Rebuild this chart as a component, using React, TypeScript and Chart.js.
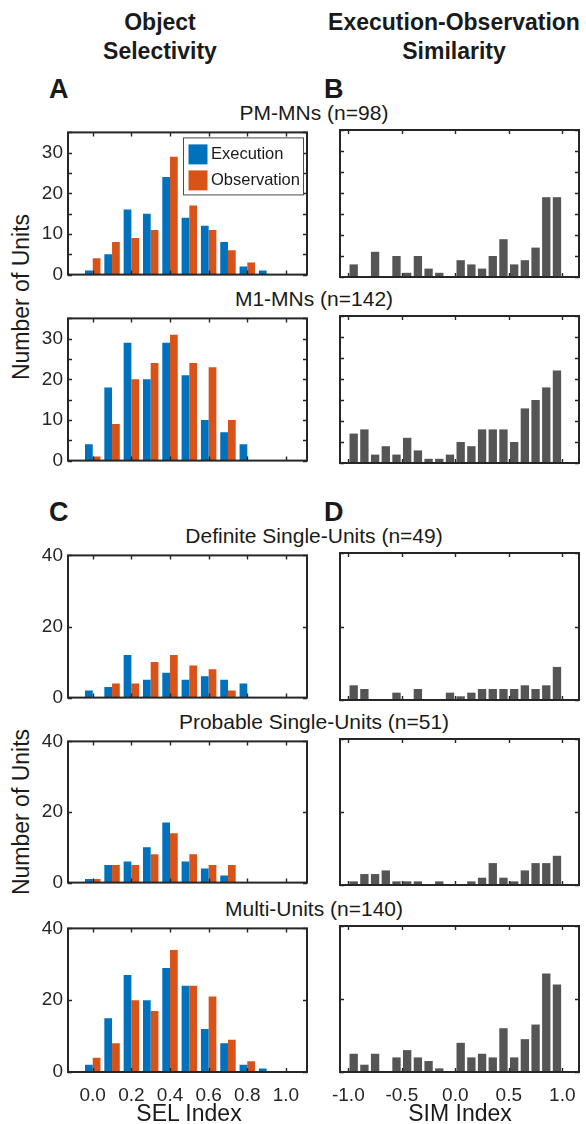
import React, { useEffect, useRef } from "react";
import { Chart, registerables } from "chart.js";

Chart.register(...registerables);

const FONT = '"Liberation Sans", Arial, Helvetica, sans-serif';
Chart.defaults.font.family = FONT;
Chart.defaults.color = "#262626";

// ---------- data ----------
const SEL_BINS = [0, 0.1, 0.2, 0.3, 0.4, 0.5, 0.6, 0.7, 0.8, 0.9];
const SIM_BINS = [
  -0.95, -0.85, -0.75, -0.65, -0.55, -0.45, -0.35, -0.25, -0.15, -0.05,
  0.05, 0.15, 0.25, 0.35, 0.45, 0.55, 0.65, 0.75, 0.85, 0.95,
];
const SEL_TICKS = [0, 0.2, 0.4, 0.6, 0.8, 1.0];
const SIM_TICKS = [-1, -0.5, 0, 0.5, 1];
const COUNT_TICKS_MN = [0, 5, 10, 15, 20, 25, 30, 35];
const COUNT_LABELS_MN = [0, 10, 20, 30];
const COUNT_TICKS_UNITS = [0, 20, 40];
const COUNT_LABELS_UNITS = [0, 20, 40];

const PM_EXEC = [1, 5, 16, 15, 24, 14, 12, 8, 2, 1];
const PM_OBS = [4, 8, 9, 11, 29, 17, 11, 6, 3, 0];
const PM_SIM = [3, 0, 6, 0, 5, 1, 5, 2, 1, 0, 4, 3, 2, 5, 9, 3, 4, 7, 19, 19];

const M1_EXEC = [4, 18, 29, 20, 29, 21, 10, 7, 4, 0];
const M1_OBS = [1, 9, 20, 24, 31, 24, 23, 10, 0, 0];
const M1_SIM = [7, 8, 2, 4, 2, 6, 3, 1, 1, 2, 5, 4, 8, 8, 8, 5, 13, 15, 18, 22];

const DEF_EXEC = [2, 3, 12, 5, 7, 5, 6, 5, 4, 0];
const DEF_OBS = [0, 4, 4, 10, 12, 9, 8, 2, 0, 0];
const DEF_SIM = [4, 3, 0, 0, 2, 0, 3, 0, 0, 2, 1, 2, 3, 3, 3, 3, 4, 3, 4, 9];

const PROB_EXEC = [1, 5, 6, 10, 17, 6, 4, 2, 0, 0];
const PROB_OBS = [1, 5, 5, 8, 14, 8, 5, 5, 0, 0];
const PROB_SIM = [1, 3, 3, 4, 1, 1, 1, 0, 1, 0, 0, 1, 2, 6, 2, 1, 4, 6, 6, 8];

const MULTI_EXEC = [2, 15, 27, 20, 29, 24, 12, 8, 2, 1];
const MULTI_OBS = [4, 8, 20, 17, 34, 24, 21, 9, 3, 0];
const MULTI_SIM = [5, 2, 5, 0, 4, 6, 4, 3, 1, 0, 8, 4, 5, 4, 12, 4, 9, 13, 27, 24];

const SERIES_NAMES = ["Execution", "Observation"];
const ROW_TITLES = [
  "PM-MNs (n=98)",
  "M1-MNs (n=142)",
  "Definite Single-Units (n=49)",
  "Probable Single-Units (n=51)",
  "Multi-Units (n=140)",
];

// ---------- style ----------
const BLUE = "#0072BD";
const ORANGE = "#D95319";
const GRAY = "#555555";
const AXIS = "#262626";

const SEL_RANGE = [-0.128, 1.109];
const SIM_RANGE = [-1.078, 1.156];
const SEL_AREA = { left: 68, right: 307 };
const SIM_AREA = { left: 340, right: 579 };
const ROWS = [
  { top: 130, bottom: 277 },
  { top: 316, bottom: 463 },
  { top: 553, bottom: 700 },
  { top: 739, bottom: 885 },
  { top: 926, bottom: 1072 },
];

const framePlugin = {
  id: "frame",
  afterDatasetsDraw(chart: any) {
    const { ctx, chartArea, scales } = chart;
    const { left, right, top, bottom } = chartArea;
    const x = scales.x;
    const y = scales.y;
    const TL = 4;
    ctx.save();
    ctx.strokeStyle = AXIS;
    ctx.lineWidth = 1.4;
    ctx.beginPath();
    x.ticks.forEach((t: any) => {
      const p = Math.round(x.getPixelForValue(t.value)) + 0.5;
      ctx.moveTo(p, bottom);
      ctx.lineTo(p, bottom - TL);
      ctx.moveTo(p, top);
      ctx.lineTo(p, top + TL);
    });
    y.ticks.forEach((t: any) => {
      const p = Math.round(y.getPixelForValue(t.value)) + 0.5;
      ctx.moveTo(left, p);
      ctx.lineTo(left + TL, p);
      ctx.moveTo(right, p);
      ctx.lineTo(right - TL, p);
    });
    ctx.stroke();
    ctx.lineWidth = 2;
    ctx.strokeRect(left, top, right - left, bottom - top);
    ctx.restore();
  },
};

const legendPlugin = {
  id: "boxLegend",
  afterDatasetsDraw(chart: any, _args: any, opts: any) {
    if (!opts || !opts.show) return;
    const { ctx, chartArea } = chart;
    const w = 121;
    const h = 58;
    const x0 = chartArea.right - 3 - w;
    const y0 = chartArea.top + 5;
    ctx.save();
    ctx.fillStyle = "#ffffff";
    ctx.fillRect(x0, y0, w, h);
    ctx.strokeStyle = "#4d4d4d";
    ctx.lineWidth = 1;
    ctx.strokeRect(x0 + 0.5, y0 + 0.5, w - 1, h - 1);
    ctx.font = `16.5px ${FONT}`;
    ctx.textBaseline = "middle";
    ctx.textAlign = "left";
    chart.data.datasets.forEach((ds: any, i: number) => {
      const sy = y0 + 7 + i * 26;
      ctx.fillStyle = ds.backgroundColor;
      ctx.fillRect(x0 + 5.5, sy, 19, 20);
      ctx.fillStyle = "#1a1a1a";
      ctx.fillText(ds.label, x0 + 28, sy + 10.5);
    });
    ctx.restore();
  },
};

type PanelProps = {
  kind: "sel" | "sim";
  series: number[][];
  yMax: number;
  yTicks: number[];
  yLabels: number[];
  showY: boolean;
  showX: boolean;
  legend?: boolean;
  top: number;
  bottom: number;
};

function Panel(p: PanelProps) {
  const ref = useRef<HTMLCanvasElement>(null);
  const sel = p.kind === "sel";
  const area = sel ? SEL_AREA : SIM_AREA;
  const canvasLeft = sel ? 0 : 310;
  const padTop = 14;
  const padRight = 10;
  const xH = p.showX ? 40 : 14;
  const yW = area.left - canvasLeft;
  const w = area.right + padRight - canvasLeft;
  const h = padTop + (p.bottom - p.top) + xH;

  useEffect(() => {
    const bins = sel ? SEL_BINS : SIM_BINS;
    const datasets = sel
      ? p.series.map((vals, k) => ({
          label: SERIES_NAMES[k],
          data: bins.map((b, i) => ({ x: b, y: vals[i] })),
          backgroundColor: k === 0 ? BLUE : ORANGE,
          borderWidth: 0,
          barPercentage: 1,
          categoryPercentage: 0.8,
        }))
      : [
          {
            label: "SIM",
            data: bins.map((b, i) => ({ x: b, y: p.series[0][i] })),
            backgroundColor: GRAY,
            borderWidth: 0,
            barPercentage: 0.78,
            categoryPercentage: 1,
          },
        ];
    const xTicks = sel ? SEL_TICKS : SIM_TICKS;
    const xr = sel ? SEL_RANGE : SIM_RANGE;
    const chart = new Chart(ref.current as HTMLCanvasElement, {
      type: "bar",
      data: { datasets } as any,
      plugins: [framePlugin, legendPlugin],
      options: {
        animation: false,
        responsive: false,
        maintainAspectRatio: false,
        devicePixelRatio: 1,
        events: [],
        layout: { padding: { top: padTop, right: padRight, left: 0, bottom: 0 } },
        plugins: {
          legend: { display: false },
          tooltip: { enabled: false },
          title: { display: false },
          boxLegend: { show: !!p.legend },
        } as any,
        scales: {
          x: {
            type: "linear",
            min: xr[0],
            max: xr[1],
            offset: false,
            grid: { display: false, drawTicks: false, offset: false },
            border: { display: false },
            afterBuildTicks: (s: any) => {
              s.ticks = xTicks.map((v) => ({ value: v }));
            },
            afterFit: (s: any) => {
              s.height = xH;
            },
            ticks: {
              display: p.showX,
              padding: 12,
              autoSkip: false,
              maxRotation: 0,
              color: "#262626",
              font: { size: 19, family: FONT },
              callback: (v: any) => Number(v).toFixed(1),
            },
          },
          y: {
            type: "linear",
            min: 0,
            max: p.yMax,
            grid: { display: false, drawTicks: false },
            border: { display: false },
            afterBuildTicks: (s: any) => {
              s.ticks = p.yTicks.map((v) => ({ value: v }));
            },
            afterFit: (s: any) => {
              s.width = yW;
            },
            ticks: {
              display: p.showY,
              padding: 5,
              autoSkip: false,
              color: "#262626",
              font: { size: 19, family: FONT },
              callback: (v: any) => (p.yLabels.includes(Number(v)) ? String(v) : ""),
            },
          },
        },
      } as any,
    });
    return () => chart.destroy();
  }, []);

  return (
    <canvas
      ref={ref}
      width={w}
      height={h}
      style={{ position: "absolute", left: canvasLeft, top: p.top - padTop, width: w, height: h }}
    />
  );
}

function Txt(props: {
  x: number;
  baseline: number;
  size: number;
  bold?: boolean;
  align?: "left" | "center";
  children: React.ReactNode;
}) {
  const { x, baseline, size, bold, align = "center", children } = props;
  const top = baseline - 0.8465 * size;
  const W = 500;
  return (
    <div
      style={{
        position: "absolute",
        left: align === "center" ? x - W / 2 : x,
        width: align === "center" ? W : undefined,
        top,
        fontSize: size,
        lineHeight: `${size}px`,
        fontWeight: bold ? 700 : 400,
        textAlign: align,
        whiteSpace: "nowrap",
        color: "#1a1a1a",
      }}
    >
      {children}
    </div>
  );
}

function VLabel(props: { cx: number; cy: number; size: number; children: React.ReactNode }) {
  const { cx, cy, size, children } = props;
  const W = 300;
  const H = 30;
  return (
    <div
      style={{
        position: "absolute",
        left: cx - W / 2,
        top: cy - H / 2,
        width: W,
        height: H,
        lineHeight: `${H}px`,
        fontSize: size,
        textAlign: "center",
        transform: "rotate(-90deg)",
        whiteSpace: "nowrap",
        color: "#1a1a1a",
      }}
    >
      {children}
    </div>
  );
}

export default function App() {
  const selData = [
    [PM_EXEC, PM_OBS],
    [M1_EXEC, M1_OBS],
    [DEF_EXEC, DEF_OBS],
    [PROB_EXEC, PROB_OBS],
    [MULTI_EXEC, MULTI_OBS],
  ];
  const simData = [PM_SIM, M1_SIM, DEF_SIM, PROB_SIM, MULTI_SIM];
  return (
    <div
      style={{
        position: "absolute",
        left: 0,
        top: 0,
        width: 586,
        height: 1124,
        overflow: "hidden",
        background: "#ffffff",
        fontFamily: FONT,
      }}
    >
      <Txt x={160} baseline={30.7} size={23} bold>
        Object
      </Txt>
      <Txt x={160} baseline={59.3} size={23} bold>
        Selectivity
      </Txt>
      <Txt x={454} baseline={30.7} size={23} bold>
        Execution-Observation
      </Txt>
      <Txt x={454} baseline={59.3} size={23} bold>
        Similarity
      </Txt>
      <Txt x={49} baseline={99.3} size={27} bold align="left">
        A
      </Txt>
      <Txt x={324} baseline={99.3} size={27} bold align="left">
        B
      </Txt>
      <Txt x={49} baseline={522} size={27} bold align="left">
        C
      </Txt>
      <Txt x={324} baseline={522} size={27} bold align="left">
        D
      </Txt>
      {ROWS.map((r, i) => (
        <Txt key={"t" + i} x={314} baseline={r.top - 10} size={21}>
          {ROW_TITLES[i]}
        </Txt>
      ))}
      <VLabel cx={21} cy={296.5} size={23}>
        Number of Units
      </VLabel>
      <VLabel cx={21} cy={812} size={23}>
        Number of Units
      </VLabel>
      {ROWS.map((r, i) => (
        <Panel
          key={"sel" + i}
          kind="sel"
          series={selData[i]}
          yMax={i < 2 ? 35 : 40}
          yTicks={i < 2 ? COUNT_TICKS_MN : COUNT_TICKS_UNITS}
          yLabels={i < 2 ? COUNT_LABELS_MN : COUNT_LABELS_UNITS}
          showY={true}
          showX={i === 4}
          legend={i === 0}
          top={r.top}
          bottom={r.bottom}
        />
      ))}
      {ROWS.map((r, i) => (
        <Panel
          key={"sim" + i}
          kind="sim"
          series={[simData[i]]}
          yMax={i < 2 ? 35 : 40}
          yTicks={i < 2 ? COUNT_TICKS_MN : COUNT_TICKS_UNITS}
          yLabels={i < 2 ? COUNT_LABELS_MN : COUNT_LABELS_UNITS}
          showY={false}
          showX={i === 4}
          top={r.top}
          bottom={r.bottom}
        />
      ))}
      <Txt x={189} baseline={1121.7} size={23}>
        SEL Index
      </Txt>
      <Txt x={460} baseline={1121.7} size={23}>
        SIM Index
      </Txt>
    </div>
  );
}
